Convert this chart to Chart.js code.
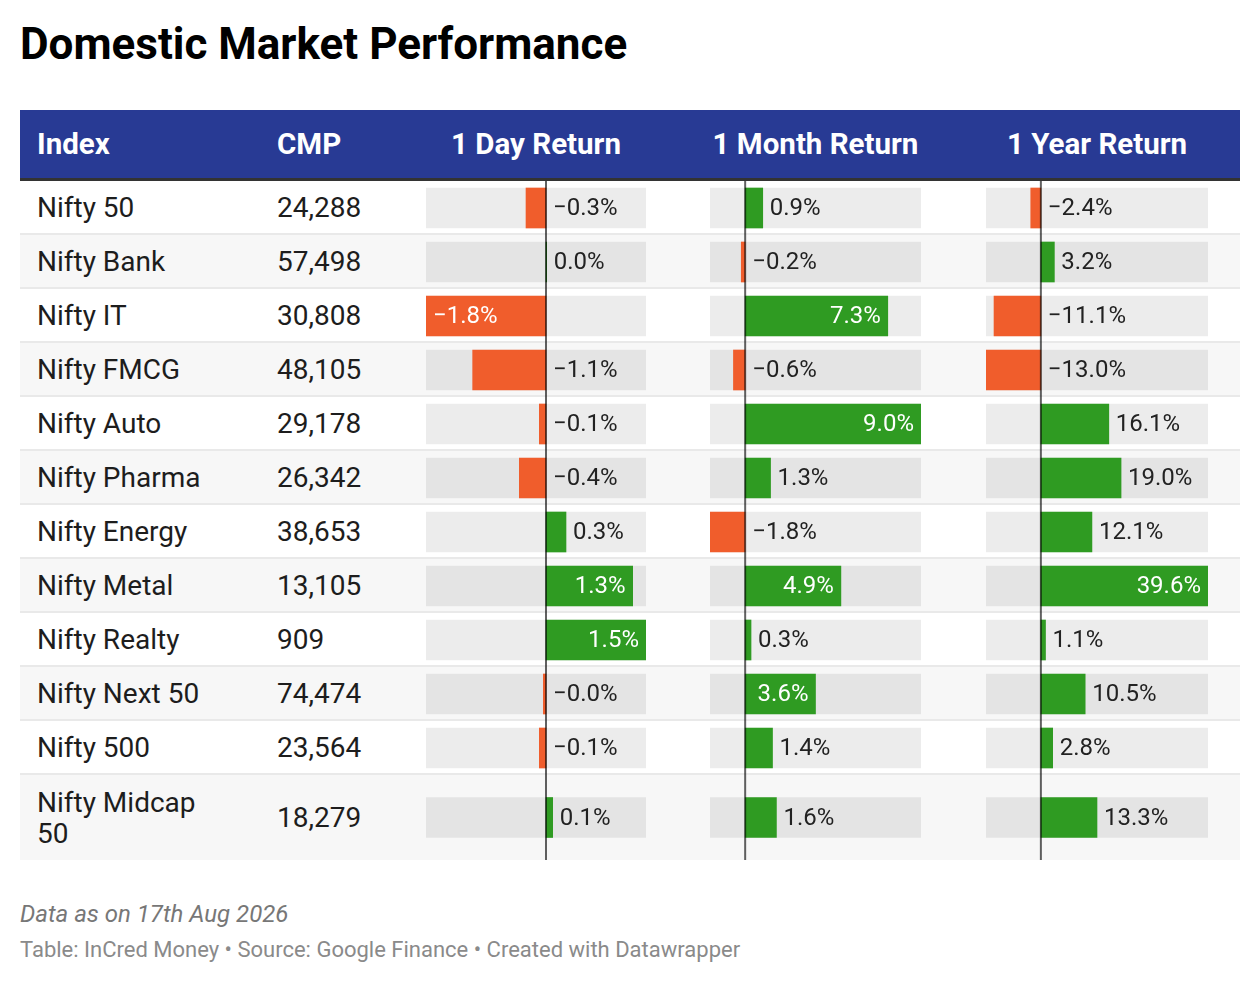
<!DOCTYPE html>
<html>
<head>
<meta charset="utf-8">
<script src="https://cdn.jsdelivr.net/npm/chart.js@4.4.1/dist/chart.umd.min.js"></script>
<style>
  body { margin: 0; background: #fff; font-family: Roboto, sans-serif; width: 1260px; height: 984px; position: relative; overflow: hidden; }
  h1 { position: absolute; left: 20px; top: 22px; margin: 0; font: 700 44px/44px Roboto, sans-serif; color: #000; }
  table { position: absolute; left: 20px; top: 110px; width: 1220px; border-collapse: separate; border-spacing: 0; table-layout: fixed; }
  th { height: 68px; padding: 0; background: #283a94; color: #fff; font: 700 29.5px/68px Roboto, sans-serif; border-bottom: 3px solid #333; text-align: left; }
  td { padding: 0; font: 400 28px/31px Roboto, sans-serif; color: #1d1d1d; vertical-align: middle; border-bottom: 2px solid #e9e9e9; }
  tr:last-child td { border-bottom: none; }
  tbody tr:nth-child(even) td { background: #f7f7f7; }
  .name { padding-left: 17px; padding-right: 44px; }
  .cmp { padding-left: 16px; }
  .bar { padding-left: 16px; }
  .cell { position: relative; }
  .cell canvas { position: absolute; left: 0; top: 0; }
  .note { position: absolute; left: 20px; top: 900px; font: italic 400 24px/28px Roboto, sans-serif; color: #777; }
  .source { position: absolute; left: 20px; top: 937px; font: 400 22px/26px Roboto, sans-serif; color: #8a8a8a; }
</style>
</head>
<body>
<h1>Domestic Market Performance</h1>
<table id="tbl">
  <colgroup>
    <col style="width:241px"><col style="width:149px"><col style="width:284px"><col style="width:276px"><col style="width:270px">
  </colgroup>
  <thead><tr id="head"></tr></thead>
  <tbody id="body"></tbody>
</table>
<div class="note">Data as on 17th Aug 2026</div>
<div class="source">Table: InCred Money • Source: Google Finance • Created with Datawrapper</div>
<script>
const headers = ['Index', 'CMP', '1 Day Return', '1 Month Return', '1 Year Return'];
const indexNames = ['Nifty 50', 'Nifty Bank', 'Nifty IT', 'Nifty FMCG', 'Nifty Auto', 'Nifty Pharma',
  'Nifty Energy', 'Nifty Metal', 'Nifty Realty', 'Nifty Next 50', 'Nifty 500', 'Nifty Midcap 50'];
const cmpValues = [24288, 57498, 30808, 48105, 29178, 26342, 38653, 13105, 909, 74474, 23564, 18279];
const dayReturn = [-0.3, 0.01, -1.8, -1.1, -0.1, -0.4, 0.3, 1.3, 1.5, -0.04, -0.1, 0.1];
const monthReturn = [0.9, -0.2, 7.3, -0.6, 9.0, 1.3, -1.8, 4.9, 0.3, 3.6, 1.4, 1.6];
const yearReturn = [-2.4, 3.2, -11.1, -13.0, 16.1, 19.0, 12.1, 39.6, 1.1, 10.5, 2.8, 13.3];

const ORANGE = '#f05d2c';
const GREEN = '#2f9b22';

// bar columns: drawing width and which rows carry the label inside the bar
const returnCols = [
  { values: dayReturn, width: 220, padRight: 48, inside: [2, 7, 8] },
  { values: monthReturn, width: 211, padRight: 49, inside: [2, 4, 7, 9] },
  { values: yearReturn, width: 222, padRight: 32, inside: [7] },
];

const cellLabels = {
  id: 'cellLabels',
  afterDatasetsDraw(chart, args, opts) {
    const ctx = chart.ctx;
    const x0 = chart.scales.x.getPixelForValue(0);
    const bar = chart.getDatasetMeta(0).data[0];
    const v = chart.data.datasets[0].data[0];
    ctx.save();
    ctx.strokeStyle = 'rgba(0,0,0,0.62)';
    ctx.lineWidth = 2;
    ctx.beginPath();
    ctx.moveTo(x0, 0);
    ctx.lineTo(x0, chart.height);
    ctx.stroke();

    const txt = (v < 0 ? '\u2212' : '') + Math.abs(v).toFixed(1) + '%';
    ctx.font = '24px Roboto';
    ctx.textBaseline = 'middle';
    if (opts.inside) {
      ctx.fillStyle = '#fff';
      if (v < 0) { ctx.textAlign = 'left'; ctx.fillText(txt, bar.x + 7, bar.y + 1); }
      else { ctx.textAlign = 'right'; ctx.fillText(txt, bar.x - 7, bar.y + 1); }
    } else {
      ctx.fillStyle = '#222';
      ctx.textAlign = 'left';
      ctx.fillText(txt, Math.max(bar.x, x0) + 7, bar.y + 1);
    }
    ctx.restore();
  }
};

const head = document.getElementById('head');
headers.forEach((h, c) => {
  const th = document.createElement('th');
  th.textContent = h;
  if (c === 0) th.style.paddingLeft = '17px';
  else if (c === 1) th.style.paddingLeft = '16px';
  else {
    th.style.paddingLeft = '16px';
    th.style.paddingRight = returnCols[c - 2].padRight + 'px';
    th.style.textAlign = 'center';
  }
  head.appendChild(th);
});

const body = document.getElementById('body');
indexNames.forEach((name, r) => {
  const last = r === indexNames.length - 1;
  const rowH = last ? 85 : 52;
  const canvasH = last ? 85 : 54;
  const tr = document.createElement('tr');
  const tdName = document.createElement('td');
  tdName.className = 'name';
  tdName.textContent = name;
  tr.appendChild(tdName);
  const tdCmp = document.createElement('td');
  tdCmp.className = 'cmp';
  tdCmp.textContent = cmpValues[r].toLocaleString('en-US');
  tr.appendChild(tdCmp);

  returnCols.forEach(col => {
    const td = document.createElement('td');
    td.className = 'bar';
    td.style.paddingRight = col.padRight + 'px';
    const wrap = document.createElement('div');
    wrap.className = 'cell';
    wrap.style.width = col.width + 'px';
    wrap.style.height = rowH + 'px';
    const canvas = document.createElement('canvas');
    canvas.width = col.width;
    canvas.height = canvasH;
    canvas.style.width = col.width + 'px';
    canvas.style.height = canvasH + 'px';
    wrap.appendChild(canvas);
    td.appendChild(wrap);
    tr.appendChild(td);

    const v = col.values[r];
    const lo = Math.min(...col.values);
    const hi = Math.max(...col.values);
    new Chart(canvas, {
      type: 'bar',
      data: {
        labels: [name],
        datasets: [
          { data: [v], backgroundColor: v < 0 ? ORANGE : GREEN, barThickness: 40, grouped: false, borderWidth: 0 },
          { data: [[lo, hi]], backgroundColor: 'rgba(0,0,0,0.075)', barThickness: 40, grouped: false, borderWidth: 0 }
        ]
      },
      options: {
        indexAxis: 'y',
        responsive: false,
        animation: false,
        events: [],
        layout: { padding: 0 },
        plugins: {
          legend: { display: false },
          tooltip: { enabled: false },
          cellLabels: { inside: col.inside.includes(r) }
        },
        scales: {
          x: { type: 'linear', min: lo, max: hi, display: false },
          y: { display: false }
        }
      },
      plugins: [cellLabels]
    });
  });
  body.appendChild(tr);
});
</script>
</body>
</html>
